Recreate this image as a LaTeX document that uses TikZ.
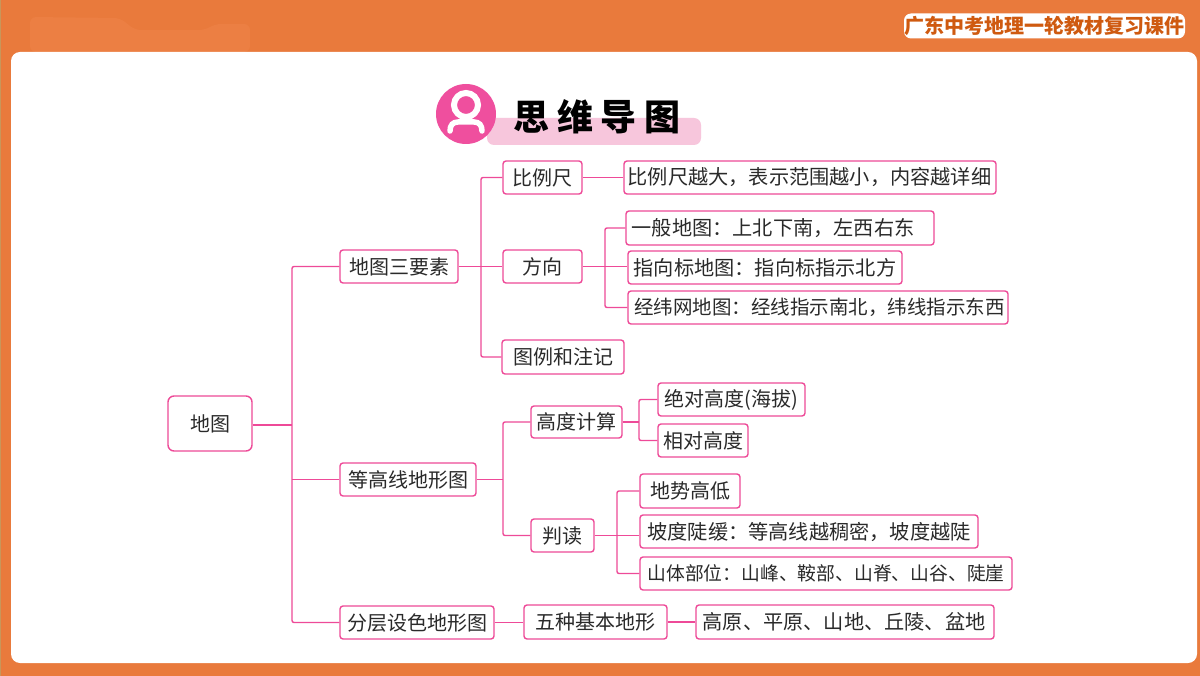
\documentclass[tikz,border=0pt]{standalone}
\usepackage{fontspec}
\setmainfont{Noto Sans CJK SC}
\newfontfamily\titlefont[LetterSpace=22]{Noto Sans CJK SC}
\definecolor{bgorange}{HTML}{E97A3C}
\definecolor{patchorange}{HTML}{EC7F43}
\definecolor{edgetan}{HTML}{C8965A}
\definecolor{tagtext}{HTML}{CF5A10}
\definecolor{hotpink}{HTML}{EF4F9E}
\definecolor{palepink}{HTML}{F7C6DC}
\definecolor{linkpink}{HTML}{EE4A98}
\definecolor{inkdark}{HTML}{2A2A2A}
\tikzset{
  mapbox/.style={draw=linkpink,line width=1.4pt,rounded corners=3pt,fill=white,inner sep=0pt,text=inkdark,align=center},
  rootbox/.style={mapbox,rounded corners=6pt},
  link/.style={draw=linkpink,line width=1.4pt,rounded corners=2pt},
}
% name, x1, y1, x2, y2, font size, text
\newcommand{\mapnode}[7]{%
  \pgfmathsetmacro{\cxx}{(#2+#4)/2}\pgfmathsetmacro{\cyy}{(#3+#5)/2}%
  \pgfmathsetmacro{\www}{#4-#2}\pgfmathsetmacro{\hhh}{#5-#3}%
  \node[mapbox,minimum width=\www pt,minimum height=\hhh pt,font=\fontsize{#6}{#6}\selectfont] (#1) at (\cxx,\cyy) {#7};}
\begin{document}
\begin{tikzpicture}[x=1pt,y=-1pt]
\useasboundingbox (0,0) rectangle (1200,676);
\fill[bgorange] (0,0) rectangle (1200,676);
\fill[edgetan] (0,0) rectangle (1,676);
\fill[patchorange,rounded corners=6pt] (30,17) -- (120,18) -- (135,30) -- (205,30) -- (215,24) -- (250,24) -- (250,52) -- (30,52) -- cycle;
\fill[white,rounded corners=9pt] (11,52) rectangle (1197,663);
% header tag
\node[fill=white,rounded corners=7pt,minimum width=281pt,minimum height=25pt,inner sep=0pt,text=tagtext,font=\fontsize{20}{20}\selectfont\bfseries] (tag) at (1044.5,26) {广东中考地理一轮教材复习课件};
% title
\fill[palepink,rounded corners=7pt] (487,118) rectangle (701,145);
\fill[hotpink] (466,114) circle (30);
\draw[white,line width=6pt] (466,105) circle (12);
\draw[white,line width=5.5pt,line cap=round] (450,131) .. controls (450,125) and (453,122) .. (458,122) -- (474,122) .. controls (479,122) and (482,125) .. (482,131);
\node[inner sep=0pt,text=black,font=\titlefont\fontsize{36}{36}\selectfont\bfseries] (title) at (597,116.5) {思维导图};
% nodes
\node[rootbox,minimum width=84pt,minimum height=55pt,font=\fontsize{20}{20}\selectfont] (root) at (210,423.5) {地图};
\mapnode{elements}{340}{250}{458}{283}{20}{地图三要素}
\mapnode{contour}{340}{463}{476}{496}{20}{等高线地形图}
\mapnode{layered}{340}{606}{494}{639}{20}{分层设色地形图}
\mapnode{scale}{503}{161}{582}{194}{20}{比例尺}
\mapnode{scaletxt}{624}{161}{996}{194}{20.2}{比例尺越大，表示范围越小，内容越详细\hspace*{1pt}}
\mapnode{direction}{503}{250}{582}{283}{20}{方向}
\mapnode{dirgen}{626}{211}{934}{245}{20.2}{一般地图：上北下南，左西右东\hspace*{14pt}}
\mapnode{dirnorth}{628}{251}{902}{284}{20.2}{指向标地图：指向标指示北方}
\mapnode{dirgrid}{628}{291}{1008}{324}{19.5}{\hspace*{3pt}经纬网地图：经线指示南北，纬线指示东西}
\mapnode{legend}{502}{340}{624}{374}{20}{图例和注记}
\mapnode{height}{531}{406}{622}{438}{20}{高度计算}
\mapnode{abs}{658}{383}{805}{416}{20}{绝对高度(海拔)}
\mapnode{rel}{658}{424}{748}{457}{20}{相对高度}
\mapnode{read}{531}{519}{594}{552}{20}{判读}
\mapnode{terrain}{640}{474}{740}{508}{20}{地势高低}
\mapnode{slope}{640}{515}{978}{548}{20.2}{坡度陡缓：等高线越稠密，坡度越陡}
\mapnode{parts}{640}{557}{1012}{590}{18.8}{山体部位：山峰、鞍部、山脊、山谷、陡崖}
\mapnode{five}{524}{605}{667}{639}{20}{五种基本地形}
\mapnode{plains}{696}{605}{994}{639}{20.2}{高原、平原、山地、丘陵、盆地\hspace*{2pt}}
% trunks
\coordinate (ta) at (292,0);
\coordinate (tb) at (481,0);
\coordinate (tc) at (605,0);
\coordinate (td) at (503,0);
\coordinate (te) at (639,0);
\coordinate (tf) at (617,0);
% connectors
\draw[link] (elements.west) -- (elements.west -| ta) -- (layered.west -| ta) -- (layered.west);
\draw[link] ([yshift=-1.5pt]root.east) -- ([yshift=-1.5pt]root.east -| ta);
\draw[link] (contour.west) -- (contour.west -| ta);
\draw[link] (scale.west) -- (scale.west -| tb) -- (legend.west -| tb) -- (legend.west);
\draw[link] (elements.east) -- (direction.west);
\draw[link] (scale.east) -- (scaletxt.west);
\draw[link] (dirgen.west) -- (dirgen.west -| tc) -- (dirgrid.west -| tc) -- (dirgrid.west);
\draw[link] (direction.east) -- (dirnorth.west |- direction.east);
\draw[link] (height.west) -- (height.west -| td) -- (read.west -| td) -- (read.west);
\draw[link] (contour.east) -- (contour.east -| td);
\draw[link] (abs.west) -- (abs.west -| te) -- (rel.west -| te) -- (rel.west);
\draw[link] (height.east) -- (height.east -| te);
\draw[link] (terrain.west) -- (terrain.west -| tf) -- (parts.west -| tf) -- (parts.west);
\draw[link] (read.east) -- (slope.west |- read.east);
\draw[link] (layered.east) -- (five.west |- layered.east);
\draw[link] (five.east) -- (plains.west |- five.east);
\end{tikzpicture}
\end{document}
